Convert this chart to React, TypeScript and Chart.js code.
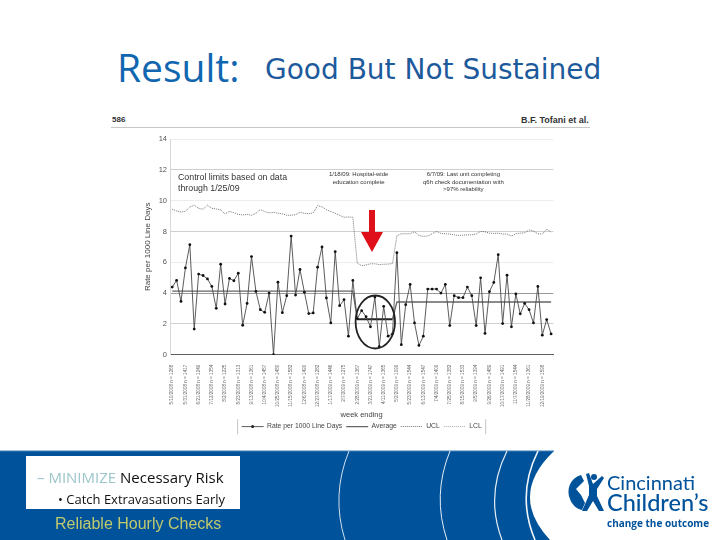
import { useEffect, useRef } from 'react';
import Chart from 'chart.js/auto';

// one tick label for every 3rd week, blanks in between
const tickLabels = [
  '5/10/2008 n = 1268', '5/31/2008 n = 1417', '6/21/2008 n = 1249', '7/12/2008 n = 1354',
  '8/2/2008 n = 1225', '8/23/2008 n = 1313', '9/13/2008 n = 1361', '10/4/2008 n = 1457',
  '10/25/2008 n = 1480', '11/15/2008 n = 1582', '12/6/2008 n = 1490', '12/27/2008 n = 1282',
  '1/17/2009 n = 1446', '2/7/2009 n = 1275', '2/28/2009 n = 1367', '3/21/2009 n = 1747',
  '4/11/2009 n = 1365', '5/2/2009 n = 1099', '5/23/2009 n = 1544', '6/13/2009 n = 1547',
  '7/4/2009 n = 1409', '7/25/2009 n = 1382', '8/15/2009 n = 1533', '9/5/2009 n = 1394',
  '9/26/2009 n = 1489', '10/17/2009 n = 1491', '11/7/2009 n = 1544', '11/28/2009 n = 1361',
  '12/19/2009 n = 1598',
];

const rate = [
  4.39, 4.82, 3.46, 5.63, 7.14, 1.66, 5.23, 5.14, 4.92, 4.43,
  3.01, 5.87, 3.29, 4.95, 4.8, 5.29, 1.91, 3.33, 6.37, 4.11,
  2.92, 2.75, 4.0, 0, 4.71, 2.73, 3.83, 7.7, 3.87, 5.53,
  4.06, 2.67, 2.71, 5.68, 6.99, 3.68, 2.06, 6.69, 3.18, 3.57,
  1.2, 4.82, 2.34, 2.86, 2.47, 1.81, 3.74, 0.52, 3.14, 1.2,
  1.35, 6.62, 0.65, 3.25, 4.56, 2.06, 0.6, 1.2, 4.26, 4.26,
  4.26, 4.0, 4.56, 1.89, 3.83, 3.7, 3.7, 4.39, 3.83, 1.89,
  4.99, 1.38, 4.09, 4.69, 6.49, 2.02, 5.16, 1.81, 3.94, 2.65,
  3.33, 2.92, 2.06, 4.43, 1.27, 2.28, 1.35,
];

const average = [
  4.12, 4.12, 4.12, 4.12, 4.12, 4.12, 4.12, 4.12, 4.12, 4.12,
  4.12, 4.12, 4.12, 4.12, 4.12, 4.12, 4.12, 4.12, 4.12, 4.12,
  4.12, 4.12, 4.12, 4.12, 4.12, 4.12, 4.12, 4.12, 4.12, 4.12,
  4.12, 4.12, 4.12, 4.12, 4.12, 4.12, 4.12, 4.12, 4.12, 4.12,
  4.12, 4.12, 2.3, 2.3, 2.3, 2.3, 2.3, 2.3, 2.3, 2.3,
  2.3, 3.42, 3.42, 3.42, 3.42, 3.42, 3.42, 3.42, 3.42, 3.42,
  3.42, 3.42, 3.42, 3.42, 3.42, 3.42, 3.42, 3.42, 3.42, 3.42,
  3.42, 3.42, 3.42, 3.42, 3.42, 3.42, 3.42, 3.42, 3.42, 3.42,
  3.42, 3.42, 3.42, 3.42, 3.42, 3.42, 3.42,
];

const ucl = [
  9.44, 9.33, 9.26, 9.3, 9.59, 9.7, 9.5, 9.44, 9.7, 9.5,
  9.46, 9.4, 9.13, 9.3, 9.22, 9.11, 9.07, 9.11, 9.05, 9.18,
  9.42, 9.29, 9.2, 9.24, 9.18, 9.15, 9.05, 9.05, 9.09, 9.24,
  9.18, 9.15, 9.2, 9.68, 9.59, 9.42, 9.29, 9.18, 9.05, 8.92,
  8.94, 8.92, 5.95, 5.77, 5.83, 5.9, 5.9, 5.85, 5.87, 5.88,
  5.92, 7.72, 7.85, 7.85, 7.85, 7.98, 7.74, 7.68, 7.7, 7.85,
  8.0, 7.87, 7.85, 7.83, 7.78, 7.74, 7.76, 7.78, 7.78, 7.83,
  8.0, 7.98, 7.89, 7.87, 7.89, 7.83, 7.83, 7.7, 7.85, 7.89,
  7.91, 8.1, 8.02, 7.85, 7.83, 8.15, 7.96,
];

const lcl = [
  0, 0, 0, 0, 0, 0, 0, 0, 0, 0, 0, 0, 0, 0, 0, 0, 0, 0, 0, 0,
  0, 0, 0, 0, 0, 0, 0, 0, 0, 0, 0, 0, 0, 0, 0, 0, 0, 0, 0, 0,
  0, 0, 0, 0, 0, 0, 0, 0, 0, 0, 0, 0, 0, 0, 0, 0, 0, 0, 0, 0,
  0, 0, 0, 0, 0, 0, 0, 0, 0, 0, 0, 0, 0, 0, 0, 0, 0, 0, 0, 0,
  0, 0, 0, 0, 0, 0, 0,
];

const weeks = rate.map((_, i) => (i % 3 === 0 ? tickLabels[i / 3] : ''));

const gridColor = (v: number) => {
  if (v === 8 || v === 12) return '#cfcfcf';
  if (v === 4) return '#9a9a9a';
  if (v === 2) return '#d0d0d0';
  if (v === 0) return '#555';
  return '#ececec';
};

// frame around the legend, and the marker on the rate swatch
const legendFrame = {
  id: 'legendFrame',
  afterDraw(chart: any) {
    const boxes = chart.legend?.legendHitBoxes;
    if (!boxes?.length) return;
    const { ctx } = chart;
    const left = boxes[0].left - 4;
    const last = boxes[boxes.length - 1];
    const right = last.left + last.width + 4;
    const top = chart.legend.top;
    const bottom = top + 15;
    ctx.save();
    ctx.strokeStyle = '#c4c4c4';
    ctx.lineWidth = 1;
    ctx.beginPath();
    ctx.moveTo(left, top);
    ctx.lineTo(left, bottom);
    ctx.moveTo(right, top);
    ctx.lineTo(right, bottom);
    ctx.stroke();
    ctx.fillStyle = '#222';
    ctx.beginPath();
    ctx.arc(boxes[0].left + 11, boxes[0].top + boxes[0].height / 2, 1.5, 0, Math.PI * 2);
    ctx.fill();
    ctx.restore();
  },
};

const RateChart = () => {
  const canvasRef = useRef<any>(null);

  useEffect(() => {
    const chart = new Chart(canvasRef.current.getContext('2d'), {
      type: 'line',
      data: {
        labels: weeks,
        datasets: [
          {
            label: 'Rate per 1000 Line Days',
            data: rate,
            borderColor: '#4a4a4a',
            backgroundColor: '#222',
            borderWidth: 0.9,
            pointRadius: 1.4,
            pointBackgroundColor: '#111',
            pointBorderWidth: 0,
            tension: 0,
          },
          {
            label: 'Average',
            data: average,
            borderColor: '#666',
            borderWidth: 1.3,
            pointRadius: 0,
            tension: 0,
            segment: {
              borderColor: (c: any) => (c.p0.parsed.y < 3 && c.p1.parsed.y < 3 ? '#222' : undefined),
              borderWidth: (c: any) => (c.p0.parsed.y < 3 && c.p1.parsed.y < 3 ? 2 : undefined),
            },
          },
          {
            label: 'UCL',
            data: ucl,
            borderColor: '#555',
            borderWidth: 0.8,
            borderDash: [1, 1],
            pointRadius: 0,
            tension: 0,
          },
          {
            label: 'LCL',
            data: lcl,
            borderColor: '#888',
            borderWidth: 0.7,
            borderDash: [1, 1],
            pointRadius: 0,
            tension: 0,
          },
        ],
      },
      options: {
        animation: false,
        responsive: false,
        layout: { padding: { top: 14, left: 0, right: 46.7, bottom: 0 } },
        plugins: {
          tooltip: { enabled: false },
          legend: {
            display: true,
            position: 'bottom',
            fullSize: false,
            labels: {
              usePointStyle: true,
              pointStyle: 'line',
              pointStyleWidth: 22,
              boxHeight: 6,
              padding: 4,
              color: '#444',
              font: { family: 'Liberation Sans', size: 6.8 },
              // keep the swatch in the line's own style, not the point's
              generateLabels(chart: any) {
                const items = (Chart.defaults as any).plugins.legend.labels.generateLabels(chart);
                items.forEach((item: any) => {
                  const d = chart.data.datasets[item.datasetIndex];
                  item.lineWidth = d.borderWidth;
                  item.strokeStyle = d.borderColor;
                  item.lineDash = d.borderDash || [];
                });
                return items;
              },
            },
          },
        },
        scales: {
          x: {
            offset: true,
            grid: { display: false },
            border: { color: '#555' },
            ticks: {
              autoSkip: false,
              maxRotation: 90,
              minRotation: 90,
              padding: 2,
              color: '#666',
              font: { family: 'Liberation Sans', size: 4.6 },
            },
            title: {
              display: true,
              text: 'week ending',
              color: '#444',
              padding: { top: 0, bottom: 0 },
              font: { family: 'Liberation Sans', size: 7.5 },
            },
            afterFit(scale: any) {
              scale.height = 64.5;
            },
          },
          y: {
            min: 0,
            max: 14,
            grid: {
              drawTicks: false,
              color: (c: any) => gridColor(c.tick.value),
            },
            border: { color: '#d8d8d8' },
            ticks: {
              stepSize: 2,
              padding: 3,
              color: '#555',
              font: { family: 'Liberation Sans', size: 7.5 },
            },
            title: {
              display: true,
              text: 'Rate per 1000 Line Days',
              color: '#444',
              padding: { top: 33, bottom: 0 },
              font: { family: 'Liberation Sans', size: 8 },
            },
            afterFit(scale: any) {
              scale.width = 60;
            },
          },
        },
      },
      plugins: [legendFrame],
    } as any);

    return () => {
      chart.destroy();
    };
  }, []);

  return <canvas ref={canvasRef} width={490} height={315} style={{ position: 'absolute', left: 110, top: 125 }} />;
};

const abs = (left: number, top: number, extra: any = {}) => ({ position: 'absolute', left, top, whiteSpace: 'nowrap', ...extra });
const note = { fontFamily: 'Liberation Sans', fontSize: 6, lineHeight: '7.6px', color: '#333', textAlign: 'center' };

export default function App() {
  return (
    <div style={{ position: 'relative', width: 720, height: 540, overflow: 'hidden', background: '#fff' }}>
      <style>{'body{margin:0}'}</style>

      <div style={abs(117, 40, { font: '39px "Open Sans"', color: '#1166b0' }) as any}>Result:</div>
      <div style={abs(265, 53, { font: '28px "DejaVu Sans"', color: '#1d5a9c' }) as any}>Good But Not Sustained</div>

      <div style={abs(112, 115, { font: 'bold 8px "Liberation Sans"', color: '#333' }) as any}>586</div>
      <div style={abs(521, 115, { font: 'bold 9px "Liberation Sans"', color: '#333' }) as any}>B.F. Tofani et al.</div>
      <div style={abs(111, 127, { width: 479, height: 1, background: '#c8c8c8' }) as any} />

      <RateChart />

      <div style={abs(178, 172, { font: '8.8px/10.5px "Liberation Sans"', color: '#333' }) as any}>
        Control limits based on data<br />through 1/25/09
      </div>
      <div style={abs(329, 171, note) as any}>1/18/09: Hospital-wide<br />education complete</div>
      <div style={abs(423, 171, note) as any}>6/7/09: Last unit completing<br />q6h check documentation with<br />&gt;97% reliability</div>

      <svg width={720} height={540} style={{ position: 'absolute', left: 0, top: 0 }}>
        <polygon points="369,210 375,210 375,232 383,232 372,252 361,232 369,232" fill="#e0101a" />
        <ellipse cx={375.3} cy={322} rx={19.7} ry={26.5} fill="none" stroke="#222" strokeWidth={1.8} />

        <path d="M0 451 H554 Q508 495 550 540 H0 Z" fill="#00529b" />
        <path d="M0 451 H554" stroke="#3f7fb5" strokeWidth={1} />
        <path d="M349 451 Q331 495 345 540" fill="none" stroke="#cfe0ee" strokeWidth={1} />
        <path d="M450 451 Q432 495 447 540" fill="none" stroke="#e6eef5" strokeWidth={1} />
        <path d="M507 451 Q485 495 502 540" fill="none" stroke="#e6eef5" strokeWidth={1.2} />
        <path d="M538 451 Q516 495 535 540" fill="none" stroke="#f2f6fa" strokeWidth={1.6} />

        {/* logo figure */}
        <path d="M581 475 C570 478 566 490 570 499 C572 505 577 509 582 510 L585 503 L581 495 L576 489 L584 481 Z" fill="#00529b" />
        <circle cx={594} cy={477} r={3} fill="#00529b" />
        <polygon points="586,474 589,473 593,484 602,476 604,478 597,489 597,496 604,511 599,511 593,501 587,511 582,511 589,495 589,486" fill="#00529b" />
      </svg>

      <div style={abs(26, 456, { width: 214, height: 53, background: '#fff' }) as any} />
      <div style={abs(37, 467, { font: '15px "Open Sans"', color: '#9cc6cb' }) as any}>
        – MINIMIZE <span style={{ color: '#111' }}>Necessary Risk</span>
      </div>
      <div style={abs(58, 490, { font: '13px "Open Sans"', color: '#111' }) as any}>• Catch Extravasations Early</div>
      <div style={abs(55, 515, { font: '16px "Liberation Sans"', color: '#c0c96e' }) as any}>Reliable Hourly Checks</div>

      <div style={abs(607, 470, { font: '20px Lato', color: '#00529b' }) as any}>Cincinnati</div>
      <div style={abs(607, 488, { font: '500 23.5px Lato', color: '#00529b' }) as any}>Children’s</div>
      <div style={abs(607, 516, { font: 'bold 10px "Open Sans"', color: '#00529b' }) as any}>change the outcome</div>
    </div>
  );
}
